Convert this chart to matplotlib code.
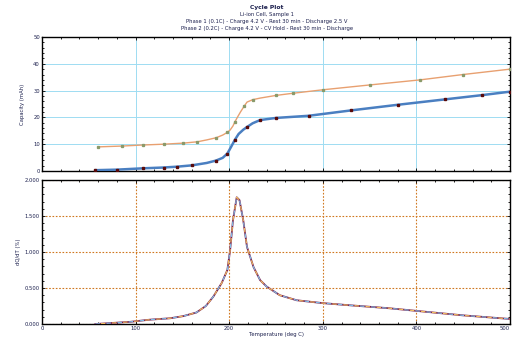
import matplotlib
matplotlib.use("Agg")
import matplotlib.pyplot as plt
from matplotlib.ticker import MultipleLocator, AutoMinorLocator

# --- data ---
x_low = [57, 80, 108, 130, 144, 160, 176, 186, 193, 198, 202, 206, 210, 215, 219,
         225, 233, 250, 285, 330, 380, 430, 470, 500]
y_low = [0.3, 0.5, 1.0, 1.3, 1.6, 2.1, 3.0, 3.9, 4.9, 6.5, 9.0, 11.6, 13.8, 15.4, 16.4,
         17.8, 19.0, 19.8, 20.6, 22.6, 24.7, 26.7, 28.3, 29.6]

x_up = [60, 85, 108, 130, 151, 166, 176, 186, 193, 198, 201, 204, 206, 209, 212,
        216, 219, 225, 233, 250, 268, 300, 350, 404, 450, 500]
y_up = [9.0, 9.3, 9.7, 10.0, 10.4, 10.9, 11.6, 12.4, 13.4, 14.4, 15.3, 16.8, 18.3, 20.2, 22.0,
        24.2, 25.7, 26.6, 27.2, 28.2, 29.0, 30.3, 32.1, 34.0, 36.0, 38.0]

x_der = [57, 94, 115, 137, 151, 165, 175, 183, 192, 198, 201, 204, 208, 211, 215,
         219, 226, 233, 240, 254, 272, 300, 329, 370, 410, 450, 500]
y_der = [0.0, 0.03, 0.06, 0.08, 0.11, 0.16, 0.25, 0.38, 0.57, 0.75, 1.03, 1.44, 1.76, 1.72, 1.44,
         1.07, 0.79, 0.61, 0.52, 0.40, 0.33, 0.29, 0.26, 0.22, 0.17, 0.12, 0.07]

x_ticks = [0, 100, 200, 300, 400, 500]
top_ticks = [0, 10, 20, 30, 40, 50]
bot_ticks = [0.0, 0.5, 1.0, 1.5, 2.0]
bot_labels = ["0.000", "0.500", "1.000", "1.500", "2.000"]

title_lines = ["Cycle Plot",
               "Li-ion Cell, Sample 1",
               "Phase 1 (0.1C) - Charge 4.2 V - Rest 30 min - Discharge 2.5 V",
               "Phase 2 (0.2C) - Charge 4.2 V - CV Hold - Rest 30 min - Discharge"]

TXT = "#1b1f4d"
FS = 3.8

fig = plt.figure(figsize=(5.13, 3.39), dpi=100)
ax1 = fig.add_axes([0.0819, 0.4956, 0.9123, 0.3953])
ax2 = fig.add_axes([0.0819, 0.0442, 0.9123, 0.4248])

# top panel
ax1.plot(x_low, y_low, color="#4a7fc1", lw=1.8, zorder=3)
ax1.plot(x_low, y_low, ls="none", marker="s", ms=1.8, color="#5a0a0a",
         markevery=0.035, zorder=4)
ax1.plot(x_up, y_up, color="#e8a070", lw=1.0, zorder=3)
ax1.plot(x_up, y_up, ls="none", marker="s", ms=1.4, color="#8a9a6a",
         markevery=0.03, zorder=4)
ax1.set_ylim(0, 50)
ax1.set_yticks(top_ticks)
ax1.grid(True, color="#9fdcf2", lw=0.7, ls="-")
ax1.set_ylabel("Capacity (mAh)", fontsize=FS, color=TXT, labelpad=6)
ax1.tick_params(labelbottom=False)

# bottom panel
ax2.plot(x_der, y_der, color="#7a1f4f", lw=1.3, zorder=3)
ax2.plot(x_der, y_der, color="#80c0e8", lw=0.8, ls=(0, (4, 6)), zorder=4)
ax2.plot(x_der, y_der, color="#f2c060", lw=0.8, ls=(5, (4, 6)), zorder=4)
ax2.set_ylim(0, 2)
ax2.set_yticks(bot_ticks)
ax2.set_yticklabels(bot_labels)
ax2.grid(True, color="#d07820", lw=0.8, ls=(0, (1.5, 1.5)))
ax2.set_ylabel("dQ/dT (%)", fontsize=FS, color=TXT, labelpad=3)
ax2.set_xlabel("Temperature (deg C)", fontsize=FS, color=TXT, labelpad=1)
ax2.set_xticks(x_ticks)

for ax in (ax1, ax2):
    ax.set_xlim(0, 500)
    ax.set_axisbelow(True)
    ax.xaxis.set_minor_locator(MultipleLocator(20))
    ax.yaxis.set_minor_locator(AutoMinorLocator(5))
    ax.tick_params(which="both", direction="in", top=True, right=True,
                   labelsize=FS, labelcolor=TXT, width=0.6, pad=1.5)
    ax.tick_params(which="major", length=2.5)
    ax.tick_params(which="minor", length=1.5)
    for s in ax.spines.values():
        s.set_linewidth(1.0)

ax2.get_xticklabels()[-1].set_ha("right")

ys = [0.977, 0.957, 0.937, 0.917]
for i, t in enumerate(title_lines):
    fig.text(0.52, ys[i], t, ha="center", va="center", color=TXT,
             fontsize=FS + (0.5 if i == 0 else 0), fontweight="bold" if i == 0 else "normal")

fig.savefig("out.png", dpi=100)
